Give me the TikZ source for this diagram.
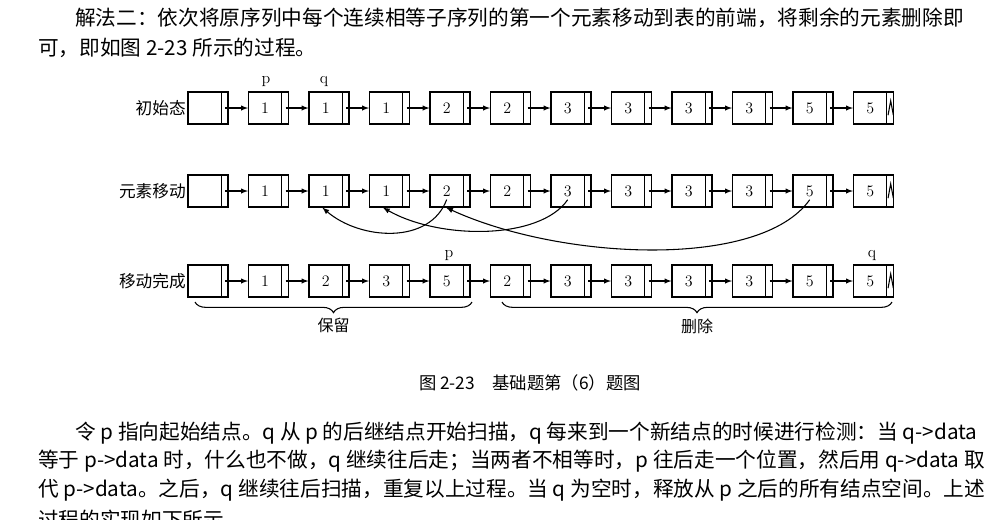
\documentclass[tikz,border=0pt]{standalone}
\usepackage{fontspec}
\newfontfamily\cjk{Noto Sans CJK SC}
\usetikzlibrary{decorations.pathreplacing}
\tikzset{
  lnode/.style={draw, thick, minimum width=30pt, minimum height=24pt, inner sep=0pt,
    path picture={\draw ([xshift=-5pt]path picture bounding box.north east)
      -- ([xshift=-5pt]path picture bounding box.south east);}},
  link/.style={thick, -latex},
  move/.style={thick, -latex},
  para/.style={anchor=west, inner sep=0pt, font=\cjk\fontsize{15.5}{18}\selectfont},
  rowlab/.style={anchor=east, inner sep=0pt, font=\cjk\fontsize{12.5}{14}\selectfont},
  ptr/.style={inner sep=0pt, font=\fontsize{12}{14}\selectfont}
}
\begin{document}
\begin{tikzpicture}[x=0.75pt, y=-0.75pt]
  \useasboundingbox (0,0) rectangle (1004,519);
  \clip (0,0) rectangle (1004,519);

  % text above the figure
  \node[para] (t1) at (75,18) {解法二：依次将原序列中每个连续相等子序列的第一个元素移动到表的前端，将剩余的元素删除即};
  \node[para] (t2) at (38,48) {可，即如图 2-23 所示的过程。};

  % three rows of lists
  \foreach \row/\y/\vals/\name in {1/108/{1,1,1,2,2,3,3,3,3,5,5}/初始态,
                                   2/191/{1,1,1,2,2,3,3,3,3,5,5}/元素移动,
                                   3/281/{1,2,3,5,2,3,3,3,3,5,5}/移动完成} {
    \node[lnode] (r\row n0) at (208,\y) {};
    \node[rowlab] (lab\row) at (186,\y) {\name};
    \foreach \v [count=\i] in \vals {
      \pgfmathtruncatemacro{\j}{\i-1}
      \node[lnode] (r\row n\i) at (208+60.5*\i,\y) {};
      \node[inner sep=0pt, font=\fontsize{12}{14}\selectfont] (r\row d\i) at ([xshift=-2.5pt]r\row n\i.center) {\v};
      \draw[link] ([xshift=-2.5pt]r\row n\j.east) -- (r\row n\i.west);
    }
    % null pointer
    \draw[thick] ([xshift=-4.5pt,yshift=7pt]r\row n11.south east) -- ([xshift=-2.5pt,yshift=-7pt]r\row n11.north east)
      -- ([xshift=-0.5pt,yshift=7pt]r\row n11.south east);
  }

  % pointers
  \node[ptr] (p1) at (266,82) {p};
  \node[ptr] (q1) at (324,82) {q};
  \node[ptr] (p3) at (449,256) {p};
  \node[ptr] (q3) at (872,256) {q};

  % moved elements
  \draw[move] (r2d4.south) ++(0,3) .. controls (430,245) and (360,240) .. ([xshift=-5pt]r2n2.south);
  \draw[move] (r2d6.south) ++(0,3) .. controls (540,240) and (440,240) .. ([xshift=-5pt]r2n3.south);
  \draw[move] (r2d10.south) ++(0,3) .. controls (760,270) and (560,260) .. ([xshift=-3pt]r2n4.south);

  % braces
  \draw[thick, decorate, decoration={brace, mirror, amplitude=8pt}] (195,302) -- (472,302)
    node[midway, below=12pt, inner sep=0pt, font=\cjk\fontsize{12}{14}\selectfont] (keep) {保留};
  \draw[thick, decorate, decoration={brace, mirror, amplitude=8pt}] (502,302) -- (892,302)
    node[midway, below=12pt, inner sep=0pt, font=\cjk\fontsize{12}{14}\selectfont] (del) {删除};

  % caption
  \node[inner sep=0pt, font=\cjk\fontsize{13}{15}\selectfont] (cap) at (530,383) {图 2-23\quad 基础题第（6）题图};

  % text below the figure
  \node[para] (b1) at (75,433) {令 p 指向起始结点。q 从 p 的后继结点开始扫描，q 每来到一个新结点的时候进行检测：当 q->data};
  \node[para] (b2) at (38,461) {等于 p->data 时，什么也不做，q 继续往后走；当两者不相等时，p 往后走一个位置，然后用 q->data 取};
  \node[para] (b3) at (38,490) {代 p->data。之后，q 继续往后扫描，重复以上过程。当 q 为空时，释放从 p 之后的所有结点空间。上述};
  \node[para] (b4) at (38,520) {过程的实现如下所示。};
\end{tikzpicture}
\end{document}
